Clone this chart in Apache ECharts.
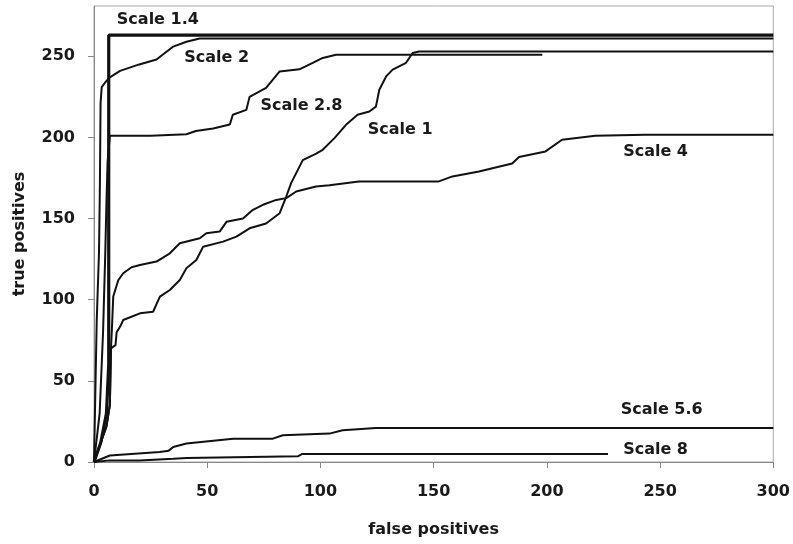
<!DOCTYPE html>
<html>
<head>
<meta charset="utf-8">
<script src="https://cdn.jsdelivr.net/npm/echarts@6/dist/echarts.min.js"></script>
<style>
html,body{margin:0;padding:0;background:#fff;}
#chart{width:793px;height:544px;}
</style>
</head>
<body>
<div id="chart"></div>
<script>
// ---- data ----
const xTicks = [0, 50, 100, 150, 200, 250, 300];
const yTicks = [0, 50, 100, 150, 200, 250];

const scale1_4 = [[0,0],[3,12],[5.5,30],[6.5,60],[6.5,263],[300,263]];
const scale2 = [[0,0],[1.2,87],[2.2,129],[2.6,170],[2.9,221],[3.4,231],[5,234],[7,237],[11.5,241],[20,245],[27.6,248],[35,256],[40.8,259],[46.7,261],[300,261]];
const scale2_8 = [[0,0],[2.5,30],[4,80],[5,130],[5.5,160],[6,185],[7,201],[25,201],[40.8,202],[45,204],[52.6,205.5],[60,208],[61.3,214],[67.3,217],[68.7,225],[76,230.5],[82,240.7],[90.7,242],[96.6,246],[101,249],[106.9,251],[198,251]];
const scale1 = [[0,0],[3,12],[5.5,22],[7,35],[7.5,70],[8,71],[9.5,72],[10,80],[11.5,83.3],[12.9,87.5],[20.3,91.6],[26.1,92.6],[29.1,101.9],[33.5,106],[37.9,112.2],[40.8,119.4],[45.2,124.5],[48.2,132.7],[57,135.8],[62.9,138.9],[68.7,144],[76,147],[82,153.3],[84.9,163.6],[87.1,172],[89.3,178],[92.2,186],[98.1,190],[101,192.4],[106.2,199.6],[111.3,207.8],[116.4,214],[121.6,216],[124.5,219],[126,229.4],[129,237.6],[131.9,241.8],[137.8,246],[140.7,252],[143.6,253],[300,253]];
const scale4 = [[0,0],[3,12],[5.5,22],[7,35],[7.5,70],[8,85],[8.5,102],[10.7,112],[12.9,116.3],[16.6,120],[20.3,121.4],[27.6,123.5],[33.5,128.6],[37.9,134.8],[46.7,137.9],[49.6,141],[55.5,142],[58.5,148],[65.8,150],[70.2,155.4],[74.6,158.5],[80.5,161.5],[84.9,162.6],[89.3,166.7],[98,169.8],[104,170.5],[117,172.8],[152,172.8],[158.3,176],[170,179],[184.7,184],[187.7,188],[199.4,191.4],[206.7,198.6],[221.4,201],[243.5,201.7],[300,201.7]];
const scale5_6 = [[0,0],[7,4],[29,6.2],[33,7],[35,9.3],[40.8,11.4],[61.4,14.4],[79,14.4],[83.4,16.5],[104,17.5],[109.8,19.6],[124.5,21],[300,21]];
const scale8 = [[0,0],[7,1],[20,1],[35,2],[41,2.5],[90,3.5],[92,5],[227,5]];

const seriesNames = ['Scale 1.4','Scale 2','Scale 2.8','Scale 1','Scale 4','Scale 5.6','Scale 8'];
const seriesData = [scale1_4, scale2, scale2_8, scale1, scale4, scale5_6, scale8];
const labelPositions = [[28.2,272.7],[54.2,249.2],[91.6,219.6],[135.2,204.8],[248,191.2],[250.7,31.9],[248,7.2]];

// ---- chart ----
const FONT = 'DejaVu Sans';
const chart = echarts.init(document.getElementById('chart'), null, {renderer:'canvas'});

const lineSeries = seriesData.map((d, i) => ({
  name: seriesNames[i],
  type: 'line',
  data: d,
  symbol: 'none',
  smooth: false,
  lineStyle: {color: '#111', width: i === 0 ? 3.2 : 2},
  z: i === 0 ? 3 : 2,
  animation: false
}));

const labelSeries = {
  type: 'scatter',
  symbolSize: 0,
  itemStyle: {opacity: 1},
  data: labelPositions.map((p, i) => ({value: p, name: seriesNames[i]})),
  label: {
    show: true,
    position: 'inside',
    formatter: p => p.name,
    fontFamily: FONT,
    fontWeight: 'bold',
    fontSize: 16,
    color: '#1a1a1a',
    opacity: 1
  },
  silent: true,
  animation: false,
  z: 5
};

chart.setOption({
  backgroundColor: '#fff',
  animation: false,
  grid: {left: 94, right: 18, top: 6, bottom: 82, show: true, borderColor: '#aaa', borderWidth: 1},
  xAxis: {
    type: 'value',
    min: xTicks[0], max: xTicks[xTicks.length-1], interval: 50,
    name: 'false positives',
    nameLocation: 'middle',
    nameGap: 60,
    nameTextStyle: {fontFamily: FONT, fontWeight: 'bold', fontSize: 16, color: '#1a1a1a'},
    axisLine: {show: true, lineStyle: {color: '#888', width: 1}},
    axisTick: {show: true, length: 6, lineStyle: {color: '#888'}},
    axisLabel: {fontFamily: FONT, fontWeight: 'bold', fontSize: 16, color: '#1a1a1a', margin: 22},
    splitLine: {show: false}
  },
  yAxis: {
    type: 'value',
    min: yTicks[0], max: 281, interval: 50,
    name: 'true positives',
    nameLocation: 'middle',
    nameGap: 66,
    nameRotate: 90,
    nameTextStyle: {fontFamily: FONT, fontWeight: 'bold', fontSize: 16, color: '#1a1a1a'},
    axisLine: {show: true, lineStyle: {color: '#888', width: 1}},
    axisTick: {show: true, length: 6, lineStyle: {color: '#888'}, customValues: yTicks},
    axisLabel: {fontFamily: FONT, fontWeight: 'bold', fontSize: 16, color: '#1a1a1a', margin: 19,
      customValues: yTicks,
      formatter: v => (yTicks.indexOf(v) >= 0 ? String(v) : '')},
    splitLine: {show: false}
  },
  series: lineSeries.concat([labelSeries])
});
</script>
</body>
</html>
